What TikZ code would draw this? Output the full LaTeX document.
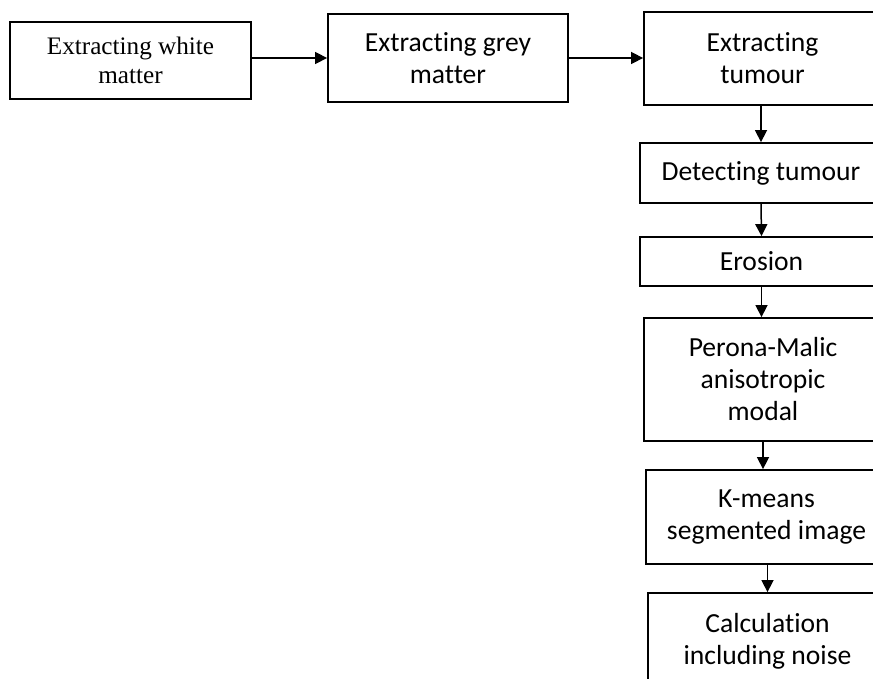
\documentclass[tikz,border=0pt]{standalone}
\usepackage{fontspec}
\setmainfont{Carlito}[Ligatures=NoCommon]
\newfontfamily\timesfont{Liberation Serif}
\usetikzlibrary{arrows.meta}

\tikzset{
    stepbox/.style={draw, line width=0.9pt, align=center, inner sep=0pt,
        font=\fontsize{13.8pt}{16pt}\selectfont},
    arr/.style={line width=0.75pt, -{Triangle[length=6pt,width=6pt]}}
}

\begin{document}
\begin{tikzpicture}[x=0.5pt, y=-0.5pt]

\useasboundingbox (0,0) rectangle (873,679);
\clip (0,0) rectangle (873,679);

% ===== Top row =====
\node[stepbox, minimum width=120.5pt, minimum height=38.5pt,
      font=\timesfont\fontsize{12.6pt}{14.5pt}\selectfont]
      (white) at (130.5,60.5) {Extracting white\\matter};
\node[stepbox, minimum width=120pt, minimum height=44pt]
      (grey) at (448,58) {Extracting grey\\matter};
\node[stepbox, minimum width=118.5pt, minimum height=46.5pt]
      (extract) at (762.5,58.5) {Extracting\\tumour};

% ===== Right column =====
\node[stepbox, minimum width=121pt, minimum height=30pt]
      (detect) at (761,173) {Detecting tumour};
\node[stepbox, minimum width=121.5pt, minimum height=24.5pt]
      (erosion) at (761.5,261.5) {Erosion};
\node[stepbox, minimum width=119pt, minimum height=61.5pt]
      (perona) at (763,379.5) {Perona-Malic\\anisotropic\\modal};
\node[stepbox, minimum width=120.5pt, minimum height=47pt]
      (kmeans) at (766.5,517) {K-means\\segmented image};
\node[stepbox, minimum width=119.5pt, minimum height=48.5pt]
      (noise) at (767.5,641.5) {Calculation\\including noise};

% ===== Arrows =====
\draw[arr] (grey.west -| white.east) -- (grey.west);
\draw[arr] (grey.east) -- (extract.west |- grey.east);

\draw[arr] (detect.north |- extract.south) -- (detect.north);
\draw[arr] (detect.south) -- (erosion.north);
\draw[arr] (erosion.south) -- (erosion.south |- perona.north);
\draw[arr] (perona.south) -- (perona.south |- kmeans.north);
\draw[arr] (noise.north |- kmeans.south) -- (noise.north);

\end{tikzpicture}
\end{document}
